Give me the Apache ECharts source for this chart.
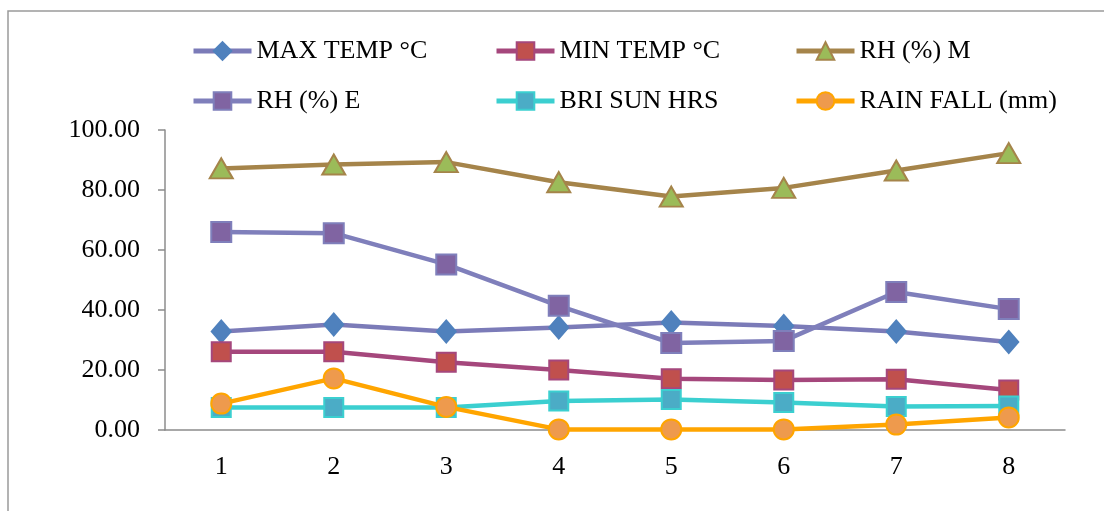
<!DOCTYPE html>
<html><head><meta charset="utf-8">
<script src="https://cdn.jsdelivr.net/npm/echarts@6/dist/echarts.min.js"></script>
<style>html,body{margin:0;padding:0;background:#fff}#c{width:1104px;height:511px}</style>
</head><body><div id="c"></div>
<script>
const categories = ['1','2','3','4','5','6','7','8'];
const maxTemp = [32.8, 35.2, 32.8, 34.2, 35.8, 34.7, 32.8, 29.3];
const minTemp = [26.1, 26.1, 22.6, 20.0, 17.1, 16.7, 16.9, 13.3];
const rhM = [87.2, 88.5, 89.3, 82.6, 77.8, 80.7, 86.5, 92.3];
const rhE = [66.0, 65.6, 55.2, 41.4, 29.0, 29.7, 46.0, 40.3];
const briSun = [7.5, 7.5, 7.5, 9.7, 10.2, 9.2, 7.8, 8.0];
const rainFall = [8.8, 17.2, 7.7, 0.2, 0.2, 0.2, 1.8, 4.2];
const names = ['MAX TEMP °C','MIN TEMP °C','RH (%) M','RH (%) E','BRI SUN HRS','RAIN FALL (mm)'];

const font = 'Liberation Serif, "Times New Roman", serif';
const styles = [
  {data: maxTemp, line:'#7B7BB8', fill:'#4F81BD', border:'#4F81BD', symbol:'diamond', size:[19,22]},
  {data: minTemp, line:'#A5477C', fill:'#C0504D', border:'#A5477C', symbol:'rect', size:19},
  {data: rhM, line:'#A5844A', fill:'#9BBB59', border:'#A5844A', symbol:'triangle', size:[23,20]},
  {data: rhE, line:'#7F7FBB', fill:'#8064A2', border:'#7F7FBB', symbol:'rect', size:20},
  {data: briSun, line:'#3BCFD0', fill:'#4BACC6', border:'#3BCFD0', symbol:'rect', size:19},
  {data: rainFall, line:'#FFA500', fill:'#EE9A4D', border:'#FFA500', symbol:'circle', size:20}
];
const legendPos = [[191,38],[494,38],[794,38],[191,88],[494,88],[794,88]];

const chart = echarts.init(document.getElementById('c'));
chart.setOption({
  animation:false,
  graphic:[{type:'rect', shape:{x:8, y:11, width:1300, height:700}, style:{fill:'none', stroke:'#9a9a9a', lineWidth:1.5}, silent:true}],
  legend: names.map((n,i)=>({
    data:[n], left:legendPos[i][0], top:legendPos[i][1], padding:0,
    itemWidth:58, itemHeight:22, itemGap:0,
    lineStyle:{width:5},
    textStyle:{fontFamily:font, fontSize:26, color:'#000'}
  })),
  grid:{left:165, right:39, top:130, bottom:81},
  xAxis:{type:'category', data:categories, boundaryGap:true,
    axisLine:{lineStyle:{color:'#8c8c8c', width:1.5}},
    axisTick:{length:7, lineStyle:{color:'#8c8c8c', width:1.5}},
    axisLabel:{fontFamily:font, fontSize:26, color:'#000', margin:24}},
  yAxis:{type:'value', min:0, max:100, interval:20,
    axisLine:{show:true, lineStyle:{color:'#8c8c8c', width:1.5}},
    axisTick:{show:true, length:7, lineStyle:{color:'#8c8c8c', width:1.5}},
    splitLine:{show:false},
    axisLabel:{fontFamily:font, fontSize:26, color:'#000', margin:25, formatter:v=>v.toFixed(2)}},
  series: styles.map((s,i)=>({
    name:names[i], type:'line', data:s.data,
    symbol:s.symbol, symbolSize:s.size, showSymbol:true,
    lineStyle:{color:s.line, width:4.5},
    itemStyle:{color:s.fill, borderColor:s.border, borderWidth:2},
    z:2+i
  }))
});
</script></body></html>
